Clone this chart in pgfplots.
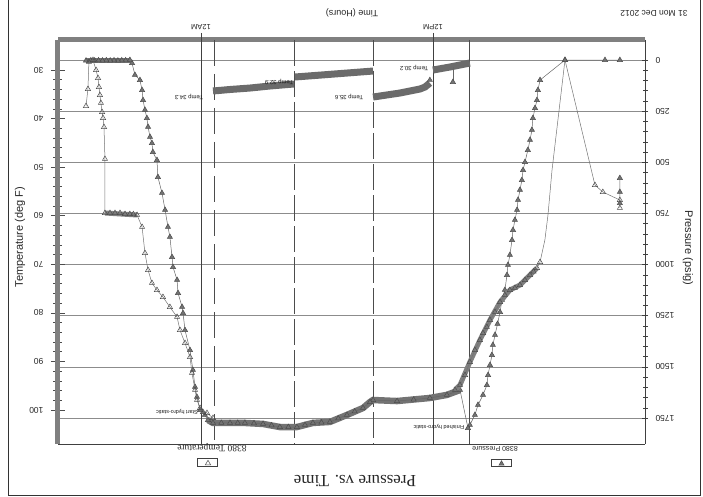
\documentclass[border=0pt]{standalone}
\usepackage{graphicx}
\usepackage{fontspec}
\setmainfont{Liberation Sans}
\newfontfamily\seriffont{Liberation Serif}
\usepackage{pgfplots}
\pgfplotsset{compat=1.18}
\pgfplotsset{
  chart/.style={at={(58pt,40pt)}, anchor=south west, scale only axis,
    width=587pt, height=404pt, xmin=1.03, xmax=31.40, clip=true,
    unbounded coords=jump,
    /pgf/number format/assume math mode=true,
    /pgf/number format/1000 sep={},
    tick label style={font=\fontsize{8.5}{10}\selectfont, text=black!85}},
  legimg/.style={legend image code/.code={\draw[##1] plot coordinates {(0pt,0pt)};}},
  pres/.style={black!60, line width=0.5pt, mark=triangle*, mark size=3pt,
    mark options={solid, rotate=180, fill=black!55, draw=black!70}},
  temp/.style={black!55, line width=0.5pt, mark=triangle, mark size=3pt,
    mark options={solid, rotate=180, fill=white, draw=black!70}},
}
\newsavebox{\chartbox}
\begin{document}
\begin{lrbox}{\chartbox}
\begin{tikzpicture}[x=1pt,y=1pt]
\path[use as bounding box] (0,0) rectangle (703,497);
\draw[black!80, line width=1pt] (3,0) -- (3,495) -- (694,495) -- (694,0);

% ---------------- pressure axis ----------------
\begin{axis}[chart, ymin=-97.8, ymax=1877,
  axis x line*=bottom, axis y line*=left,
  x axis line style={black!50, line width=5pt},
  y axis line style={black!75, line width=0.6pt},
  xtick=\empty,
  extra x ticks={12,24}, extra x tick labels={12PM,12AM},
  extra x tick style={grid=major, major grid style={black!75, line width=0.6pt},
     tick align=outside, major tick length=7pt,
     tick style={black!75, line width=0.6pt},
     xticklabel style={font=\fontsize{7.5}{9}\selectfont}},
  ytick={0,250,...,1750}, minor y tick num=4,
  tick align=center, major tick length=6pt, minor tick length=5pt,
  tick style={black!75, line width=0.5pt},
  yticklabel style={xshift=-4pt},
  ymajorgrids, major grid style={black!45, line width=0.5pt},
  legimg,
  legend style={at={(0.2453,1.047)}, anchor=center, draw=black!75, line width=0.7pt,
     fill=white, inner xsep=7pt, inner ysep=1.5pt, nodes={inner sep=0pt, text depth=0pt}},
]
% event lines
\addplot[forget plot, black!70, line width=0.6pt] coordinates {(10.14,-97.8) (10.14,1877)};
\addplot[forget plot, black!70, line width=0.6pt, dash pattern=on 26pt off 5pt] coordinates {(15.10,-97.8) (15.10,1877)};
\addplot[forget plot, black!70, line width=0.6pt, dash pattern=on 26pt off 5pt] coordinates {(19.19,-97.8) (19.19,1877)};
\addplot[forget plot, black!70, line width=0.6pt, dash pattern=on 26pt off 8pt] coordinates {(23.33,-97.8) (23.33,1877)};
% dense bands
\addplot[forget plot, black!55, line width=6.5pt] table {
10.60 1613
11.28 1637
12.16 1652
13.86 1667
15.10 1662
15.26 1672
15.62 1701
16.45 1735
17.33 1769
18.21 1774
19.04 1794
19.92 1794
20.79 1779
21.73 1774
22.50 1774
23.38 1774
23.64 1760
};
\addplot[forget plot, black!55, line width=5pt] table {
27.68 4
29.95 4
};
% main pressure series
\addplot[pres] table {
2.33 577
2.33 645
2.33 700
nan nan
2.33 0
3.10 0
5.17 0
6.46 98
6.57 147
6.62 196
6.72 235
6.83 284
6.88 342
6.98 391
7.09 440
7.24 499
7.34 538
7.40 587
7.50 635
7.60 684
7.65 733
7.76 782
7.86 831
7.91 880
8.02 953
8.12 1002
8.17 1051
8.28 1124
8.43 1173
8.53 1232
8.66 1290
8.79 1344
8.90 1393
8.95 1442
9.05 1491
9.15 1540
9.21 1589
9.41 1637
9.67 1686
9.83 1735
10.09 1784
10.19 1799
10.60 1613
11.28 1637
12.16 1652
13.00 1660
13.86 1667
15.10 1662
15.26 1672
15.62 1701
16.05 1718
16.45 1735
16.90 1752
17.33 1769
17.77 1772
18.21 1774
18.62 1784
19.04 1794
19.48 1794
19.92 1794
20.35 1786
20.79 1779
21.26 1776
21.73 1774
22.10 1774
22.50 1774
22.95 1774
23.38 1774
23.64 1760
23.80 1735
23.90 1721
24.05 1711
24.21 1647
24.31 1598
24.42 1515
24.57 1418
24.83 1320
24.93 1237
24.98 1207
25.19 1139
25.24 1075
25.45 1012
25.50 963
25.61 865
25.71 816
25.86 733
26.02 650
26.23 572
26.28 489
26.49 450
26.54 406
26.64 376
26.74 327
26.80 284
26.90 244
27.00 196
27.05 147
27.16 98
27.42 73
27.57 15
27.68 0
27.90 2
28.10 2
28.30 3
28.50 2
28.70 3
28.90 2
29.10 3
29.30 2
29.50 3
29.70 2
29.95 3
};
\addlegendentry{}
\end{axis}

% ---------------- temperature axis ----------------
\begin{axis}[chart, ymin=23.82, ymax=107.0,
  axis x line*=top, axis y line*=right,
  x axis line style={black!75, line width=0.6pt},
  y axis line style={black!50, line width=5pt},
  xtick=\empty,
  ytick={30,40,...,100}, minor y tick num=4,
  tick align=center, major tick length=14pt, minor tick length=9pt,
  tick style={black!70, line width=0.5pt},
  yticklabel style={xshift=4pt},
  legimg,
  legend style={at={(0.7453,1.0458)}, anchor=center, draw=black!75, line width=0.7pt,
     fill=white, inner xsep=7pt, inner ysep=1.5pt, nodes={inner sep=0pt, text depth=0pt}},
]
% top band (dense readings during hold)
\addplot[forget plot, black!58, line width=7pt] table {
10.09 28.56
11.12 29.38
12.00 30.00
nan nan
12.16 32.68
12.41 33.50
12.67 33.91
13.19 34.32
13.71 34.74
14.22 35.04
14.74 35.35
15.10 35.56
nan nan
15.10 30.21
17.12 30.83
19.14 31.44
nan nan
19.19 32.88
20.43 33.29
21.47 33.71
22.50 34.01
23.38 34.32
};
\addplot[forget plot, black!50, line width=5pt] table {
6.62 70.77
6.98 72.21
7.50 74.27
8.02 75.30
8.53 77.77
9.05 81.47
9.57 85.59
10.09 90.12
10.60 94.85
10.86 95.88
};
\addplot[forget plot, black!50, line width=5pt] table {
27.31 59.85
28.97 59.44
};
\addplot[forget plot, black!60, line width=0.5pt, mark=triangle*, mark size=3pt,
   mark options={solid, rotate=180, fill=black!55, draw=black!70}, mark indices={2}] coordinates {(10.97,29.4) (10.97,32.47)};
\addplot[forget plot, only marks, mark=triangle*, mark size=3pt,
   mark options={rotate=180, fill=black!55, draw=black!70}] coordinates {(12.16,32.06)};
% thin rise to the peak
\addplot[forget plot, black!55, line width=0.5pt] table {
3.62 53.68
5.17 27.94
5.84 50.59
6.05 59.85
6.21 65.00
6.46 69.53
};
% main temperature series
\addplot[temp] table {
2.33 58.41
2.33 56.77
3.21 55.12
3.62 53.68
nan nan
5.17 27.94
nan nan
6.46 69.53
6.62 70.77
6.80 71.50
6.98 72.21
7.24 73.24
7.50 74.27
7.76 74.88
8.02 75.30
8.28 76.32
8.53 77.77
8.79 79.82
9.05 81.47
9.21 82.91
9.41 84.15
9.57 85.59
9.83 87.65
10.09 90.12
10.34 92.80
10.60 94.85
10.86 95.88
nan nan
23.38 101.65
23.69 100.62
24.05 99.59
24.21 97.94
24.31 95.88
24.47 92.38
24.57 89.09
24.83 86.21
25.09 83.53
25.24 80.85
25.61 78.80
25.97 76.74
26.28 75.30
26.54 73.85
26.74 71.18
26.90 67.68
27.05 62.32
27.31 59.85
27.50 59.70
27.68 59.65
27.93 59.65
28.19 59.44
28.45 59.44
28.71 59.44
28.97 59.44
28.97 48.32
29.02 41.74
29.07 39.88
29.12 38.65
29.18 36.79
29.23 35.15
29.28 33.50
29.33 31.65
29.43 30.00
29.59 27.94
29.80 28.35
29.85 33.91
29.95 37.41
};
\addlegendentry{}
\end{axis}

% ---------------- texts ----------------
\node[font=\seriffont\fontsize{17}{20}\selectfont, text=black!85] at (348,481) {Pressure vs. Time};
\node[font=\fontsize{7}{8}\selectfont, text=black!85] at (208,449) {8380 Pressure};
\node[font=\seriffont\fontsize{9.5}{11}\selectfont, text=black!85] at (491,448) {8380 Temperature};
\node[font=\fontsize{11}{13}\selectfont, text=black!85, rotate=90] at (15,248) {Pressure (psig)};
\node[font=\fontsize{11}{13}\selectfont, text=black!85, rotate=-90] at (683,237) {Temperature (deg F)};
\node[font=\fontsize{9}{11}\selectfont, text=black!85] at (351,13) {Time (Hours)};
\node[font=\fontsize{8.5}{10}\selectfont, text=black!85] at (49,13) {31 Mon Dec 2012};
\node[font=\fontsize{5.5}{6}\selectfont, text=black!90] at (526,412) {Start hydro-static};
\node[font=\fontsize{5.5}{6}\selectfont, text=black!90] at (264,427) {Finished hydro-static};
\node[font=\fontsize{6}{7}\selectfont, text=black!90] at (514,97) {Temp 34.3};
\node[font=\fontsize{6}{7}\selectfont, text=black!90] at (424,82) {Temp 32.9};
\node[font=\fontsize{6}{7}\selectfont, text=black!90] at (354,97) {Temp 35.6};
\node[font=\fontsize{6}{7}\selectfont, text=black!90] at (289,68) {Temp 30.2};
\end{tikzpicture}%
\end{lrbox}%
\rotatebox{180}{\usebox{\chartbox}}%
\end{document}
